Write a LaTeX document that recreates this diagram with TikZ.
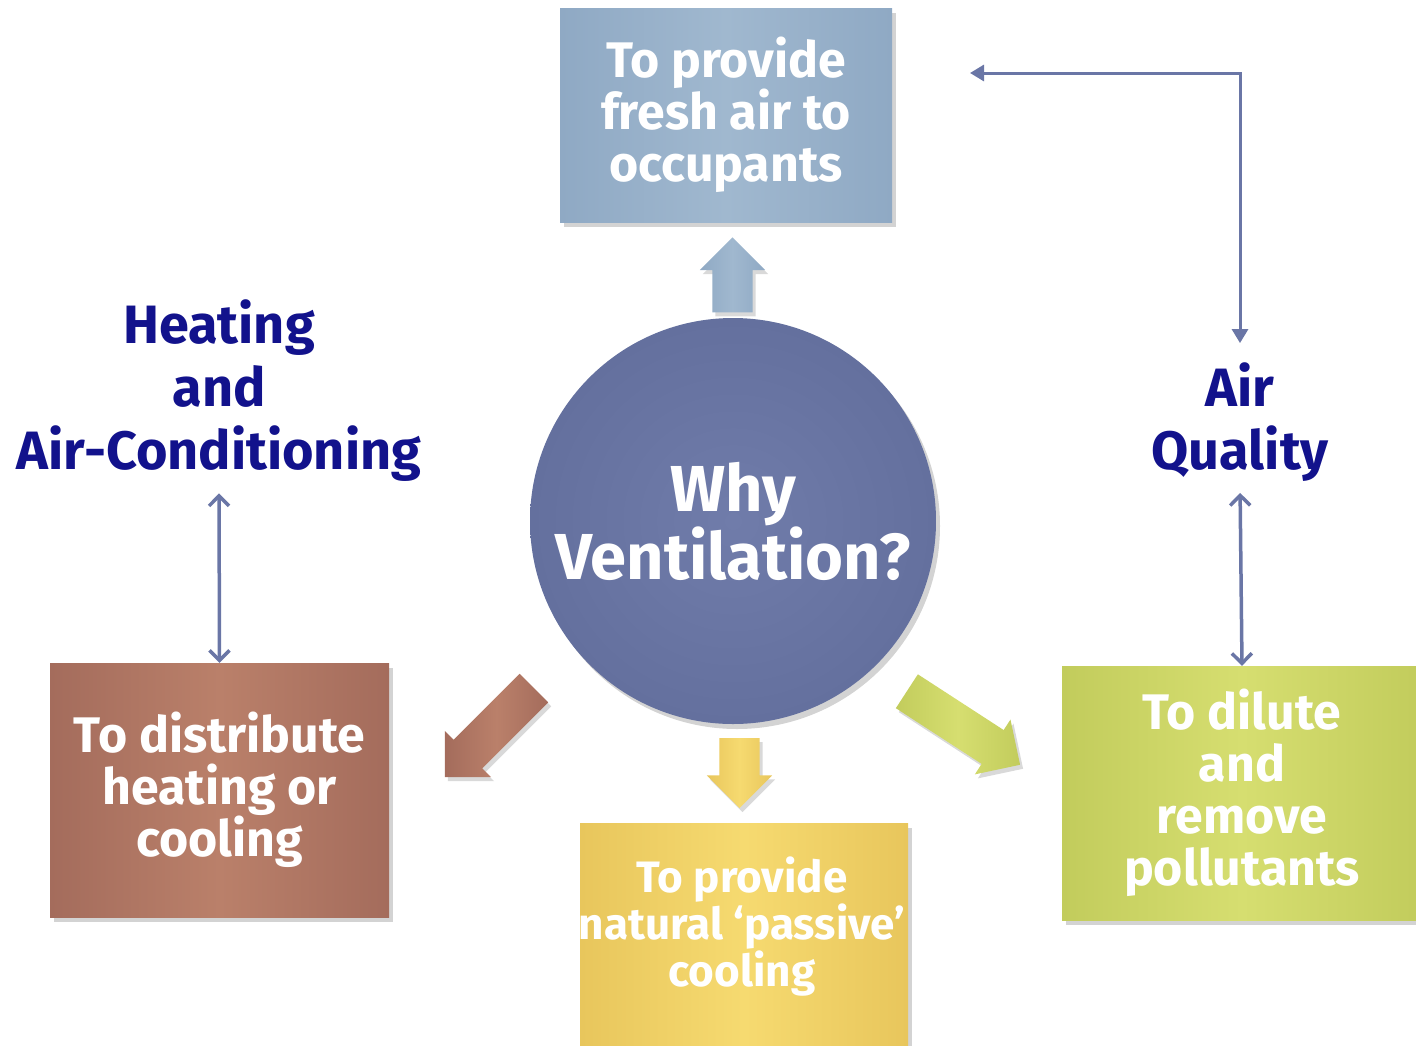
\documentclass[tikz,border=0pt]{standalone}
\usepackage{fontspec}
\setmainfont{Fira Sans}
\usetikzlibrary{shapes.arrows}
\usetikzlibrary{shadows}
\usetikzlibrary{arrows.meta}
\definecolor{freshblue}{RGB}{143,169,196}
\definecolor{freshlight}{RGB}{160,184,207}
\definecolor{whyblue}{RGB}{100,112,158}
\definecolor{whylight}{RGB}{112,124,170}
\definecolor{heatbrown}{RGB}{164,108,92}
\definecolor{heatlight}{RGB}{186,128,106}
\definecolor{coolgold}{RGB}{232,198,92}
\definecolor{coollight}{RGB}{246,218,112}
\definecolor{dilutegreen}{RGB}{194,204,92}
\definecolor{dilutelight}{RGB}{214,222,112}
\definecolor{themeblue}{RGB}{18,18,140}
\definecolor{linkblue}{RGB}{106,118,166}
\tikzset{x=1pt,y=-1pt,
    goal/.style={
        rectangle,
        inner sep=0pt,
        text=white,
        align=center,
        font=\fontsize{50}{52}\selectfont\bfseries,
        drop shadow={opacity=0.35,shadow xshift=4pt,shadow yshift=-5pt}},
    bigarrow/.style={
        single arrow,
        inner xsep=0pt,
        inner ysep=20pt,
        single arrow head extend=12.5pt,
        drop shadow={opacity=0.3,shadow xshift=3pt,shadow yshift=-4pt}},
    theme/.style={
        text=themeblue,
        align=center,
        font=\fontsize{54}{63}\selectfont\bfseries},
    link/.style={
        draw=linkblue,
        line width=3.5pt}}

\begin{document}
\begin{tikzpicture}
        \useasboundingbox (0,0) rectangle (1416,1045);

        \node[circle,minimum size=406pt,inner sep=0pt,
              inner color=whylight,outer color=whyblue,
              text=white,align=center,
              font=\fontsize{65}{66}\selectfont\bfseries,
              drop shadow={opacity=0.35,shadow xshift=4pt,shadow yshift=-5pt}]
              (why) at (733,521) {Why\\Ventilation?};

        \node[goal,minimum width=332pt,minimum height=214pt,
              left color=freshblue,right color=freshblue,middle color=freshlight]
              (fresh) at (726,115) {To provide\\fresh air to\\occupants};
        \node[goal,minimum width=339pt,minimum height=254pt,
              left color=heatbrown,right color=heatbrown,middle color=heatlight]
              (distribute) at (219.5,790) {To distribute\\heating or\\cooling};
        \node[goal,minimum width=328pt,minimum height=242pt,
              left color=coolgold,right color=coolgold,middle color=coollight]
              (passive) at (744,944) {};
        \node[text=white,align=center,font=\fontsize{44}{47}\selectfont\bfseries]
              (passivetext) at (742,927) {To provide\\natural `passive'\\cooling};
        \node[goal,minimum width=360pt,minimum height=254pt,
              left color=dilutegreen,right color=dilutegreen,middle color=dilutelight]
              (dilute) at (1242,793) {To dilute\\and\\remove\\pollutants};

        \node[theme] (heating) at (219,391) {Heating\\and\\Air-Conditioning};
        \node[theme] (quality) at (1240,422) {Air\\Quality};

        % block arrows out of the circle
        \node[bigarrow,minimum height=75pt,rotate=90,
              left color=freshblue,right color=freshblue,middle color=freshlight]
              (upfresh) at (732.5,285) {};
        \node[bigarrow,minimum height=126pt,rotate=225,
              left color=heatbrown,right color=heatbrown,middle color=heatlight]
              (toheat) at (496.5,725.5) {};
        \node[bigarrow,minimum height=70pt,rotate=-90,
              left color=coolgold,right color=coolgold,middle color=coollight]
              (tocool) at (739.5,763) {};
        \node[bigarrow,minimum height=135pt,rotate=-33,
              left color=dilutegreen,right color=dilutegreen,middle color=dilutelight]
              (todilute) at (955,722.5) {};

        \coordinate (freshend) at (970,73);

        \draw[link,{Straight Barb[length=10pt,width=20pt]}-{Straight Barb[length=10pt,width=20pt]},shorten <=8pt]
              (heating.south) -- (distribute.north);
        \draw[link,{Straight Barb[length=10pt,width=20pt]}-{Straight Barb[length=10pt,width=20pt]},shorten <=8pt]
              (quality.south) -- (dilute.north);
        \draw[link,line width=3pt,{Triangle[length=14pt,width=16pt]}-{Triangle[length=14pt,width=16pt]},shorten >=16pt]
              (freshend) -| (quality.north);
    \end{tikzpicture}
\end{document}
